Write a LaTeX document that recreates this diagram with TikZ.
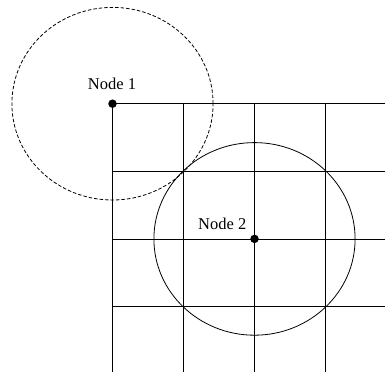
\documentclass[tikz,border=0pt]{standalone}
\usepackage{fontspec}
\setmainfont{Liberation Serif}
\begin{document}
\begin{tikzpicture}[x=1pt,y=1pt,
  gridline/.style={line width=1.1pt},
  ring/.style={line width=0.8pt},
  dashring/.style={line width=0.8pt, dash pattern=on 3.5pt off 2pt},
  dot/.style={circle, fill=black, inner sep=0pt, minimum size=8.5pt},
  lbl/.style={font=\fontsize{16.5}{18}\selectfont, inner sep=0pt}]
\useasboundingbox (0,0) rectangle (385,372);
% grid
\foreach \i in {0,1,2,3} {
  \draw[gridline] (112.5+71*\i,268.3) -- (112.5+71*\i,0);
  \draw[gridline] (112.5,268.3-67.7*\i) -- (385,268.3-67.7*\i);
}
% nodes
\node[dot] (n1) at (112.5,268.3) {};
\node[dot] (n2) at (254.5,133.1) {};
\node[lbl, anchor=base] (l1) at (112,282) {Node 1};
\node[lbl, anchor=base east] (l2) at (246.5,142) {Node 2};
% circles
\draw[dashring] (n1) ellipse [x radius=100.6, y radius=96.3];
\draw[ring] (n2) ellipse [x radius=100.6, y radius=96.3];
\end{tikzpicture}
\end{document}
